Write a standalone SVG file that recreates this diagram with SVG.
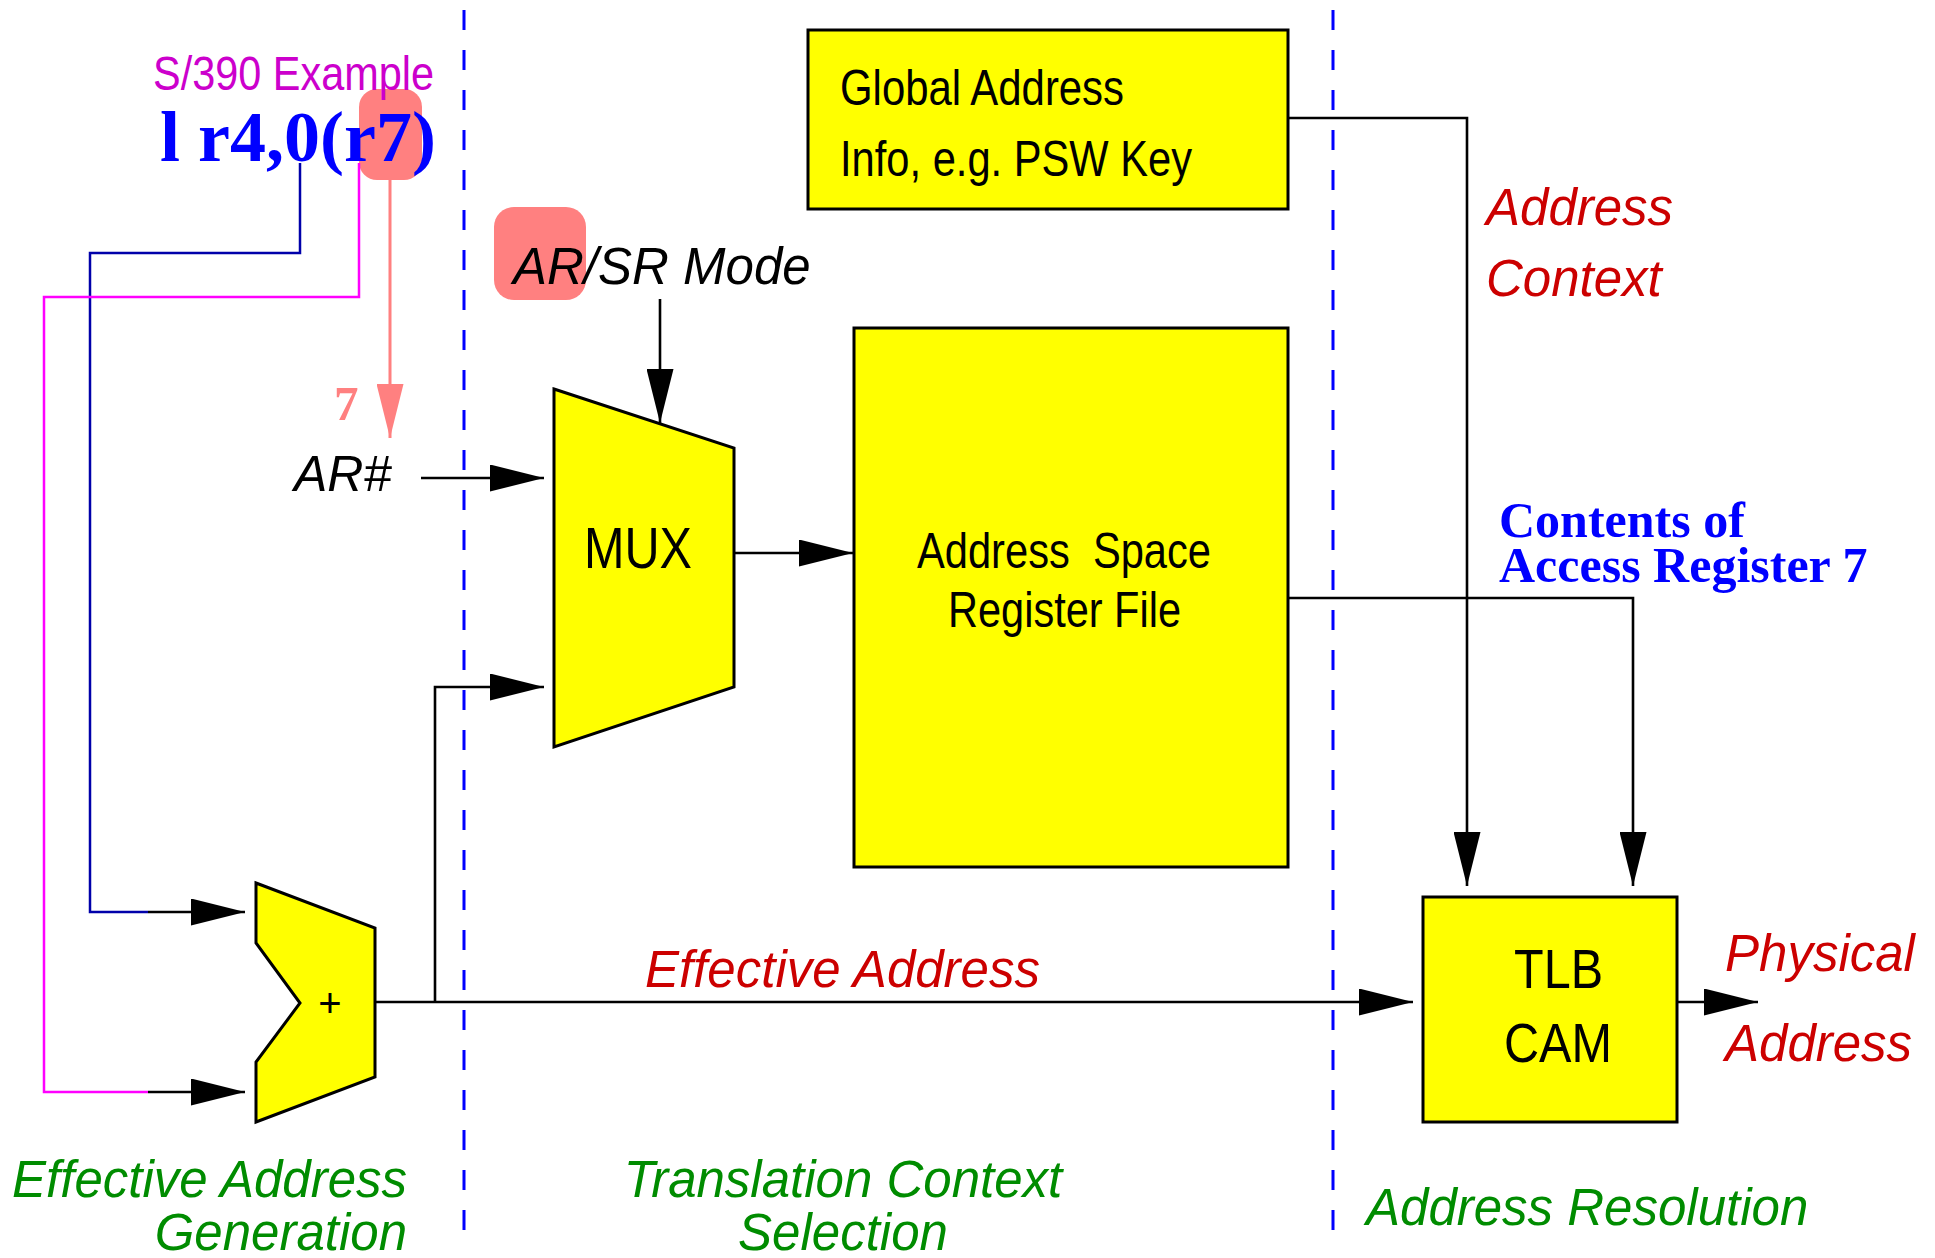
<svg xmlns="http://www.w3.org/2000/svg" width="1935" height="1258" viewBox="0 0 1935 1258">
<style>
.box{fill:#ffff00;stroke:#000;stroke-width:3}
.ln{fill:none;stroke:#000;stroke-width:2.6}
.nar{font-family:"Liberation Sans",Arial,sans-serif;fill:#000}
.it{font-family:"Liberation Sans",Arial,sans-serif;font-style:italic}
.red{fill:#cc0000;font-size:51px}
.grn{fill:#008c00;font-size:51px}
.bser{font-family:"Liberation Serif","Times New Roman",serif;font-weight:bold}
.hl{fill:#ff8080}
.dash{stroke:#0000ff;stroke-width:3;stroke-dasharray:20 20}
</style>
<defs>
<marker id="ah" markerUnits="userSpaceOnUse" markerWidth="54" markerHeight="27" viewBox="0 0 54 27" refX="54" refY="13.5" orient="auto"><path d="M0,0 L54,13.5 L0,27 z" fill="#000"/></marker>
<marker id="ahs" markerUnits="userSpaceOnUse" markerWidth="54" markerHeight="27" viewBox="0 0 54 27" refX="54" refY="13.5" orient="auto"><path d="M0,0 L54,13.5 L0,27 z" fill="#ff8080"/></marker>
</defs>
<rect width="1935" height="1258" fill="#fff"/>
<g id="dividers">
<line class="dash" x1="464" y1="10" x2="464" y2="1230"/>
<line class="dash" x1="1333" y1="10" x2="1333" y2="1230"/>
</g>
<g id="highlights">
<rect class="hl" x="359" y="89" width="63" height="91" rx="18"/>
<rect class="hl" x="494" y="207" width="92" height="93" rx="20"/>
</g>
<g id="connectors">
<path d="M300,163 V253 H90 V912 H148" fill="none" stroke="#0000aa" stroke-width="2.5"/>
<path d="M359,163 V297 H44 V1092 H148" fill="none" stroke="#ff00ff" stroke-width="2.5"/>
<path class="ln" d="M148,912 H245" marker-end="url(#ah)"/>
<path class="ln" d="M148,1092 H245" marker-end="url(#ah)"/>
<path d="M390,180 V438" fill="none" stroke="#ff8080" stroke-width="3" marker-end="url(#ahs)"/>
<path class="ln" d="M421,478 H544" marker-end="url(#ah)"/>
<path class="ln" d="M660,299 V423" marker-end="url(#ah)"/>
<path class="ln" d="M435,1002 V687 H544" marker-end="url(#ah)"/>
<path class="ln" d="M375,1002 H1413" marker-end="url(#ah)"/>
<path class="ln" d="M734,553 H853" marker-end="url(#ah)"/>
<path class="ln" d="M1288,118 H1467 V886" marker-end="url(#ah)"/>
<path class="ln" d="M1288,598 H1633 V886" marker-end="url(#ah)"/>
<path class="ln" d="M1677,1002 H1758" marker-end="url(#ah)"/>
</g>
<g id="node-global">
<rect class="box" x="808" y="30" width="480" height="179"/>
<text class="nar" x="840" y="105" font-size="50" textLength="284" lengthAdjust="spacingAndGlyphs">Global Address</text>
<text class="nar" x="840" y="176" font-size="50" textLength="352" lengthAdjust="spacingAndGlyphs">Info, e.g. PSW Key</text>
</g>
<g id="node-asrf">
<rect class="box" x="854" y="328" width="434" height="539"/>
<text class="nar" x="917" y="568" font-size="50" textLength="294" lengthAdjust="spacingAndGlyphs" xml:space="preserve">Address  Space</text>
<text class="nar" x="948" y="627" font-size="50" textLength="233" lengthAdjust="spacingAndGlyphs">Register File</text>
</g>
<g id="node-mux">
<polygon class="box" points="554,389 734,448 734,687 554,747"/>
<text class="nar" x="584" y="568" font-size="57" textLength="108" lengthAdjust="spacingAndGlyphs">MUX</text>
</g>
<g id="node-adder">
<polygon class="box" points="256,883 375,928 375,1077 256,1122 256,1062 300,1003 256,943"/>
<text class="nar" x="330" y="1017" font-size="40" text-anchor="middle">+</text>
</g>
<g id="node-tlb">
<rect class="box" x="1423" y="897" width="254" height="225"/>
<text class="nar" x="1514" y="988" font-size="56" textLength="89" lengthAdjust="spacingAndGlyphs">TLB</text>
<text class="nar" x="1504" y="1062" font-size="56" textLength="108" lengthAdjust="spacingAndGlyphs">CAM</text>
</g>
<g id="labels">
<text class="nar" x="153" y="90" font-size="49" style="fill:#cc00cc" textLength="281" lengthAdjust="spacingAndGlyphs">S/390 Example</text>
<text class="bser" x="160" y="161" font-size="72" fill="#0000ff">l r4,0(r7)</text>
<text class="bser" x="334" y="420" font-size="49" fill="#ff8080">7</text>
<text class="it" x="294" y="491" font-size="50" fill="#000">AR#</text>
<text class="it" x="513" y="284" font-size="51" fill="#000">AR/SR Mode</text>
<text class="it red" x="645" y="987">Effective Address</text>
<text class="it red" x="1486" y="225">Address</text>
<text class="it red" x="1486" y="296">Context</text>
<text class="it red" x="1725" y="971">Physical</text>
<text class="it red" x="1725" y="1061">Address</text>
<text class="bser" x="1499" y="537" font-size="50" fill="#0000ff">Contents of</text>
<text class="bser" x="1499" y="582" font-size="50" fill="#0000ff">Access Register 7</text>
<text class="it grn" x="407" y="1197" text-anchor="end">Effective Address</text>
<text class="it grn" x="407" y="1250" text-anchor="end">Generation</text>
<text class="it grn" x="843" y="1197" text-anchor="middle">Translation Context</text>
<text class="it grn" x="843" y="1250" text-anchor="middle">Selection</text>
<text class="it grn" x="1366" y="1225">Address Resolution</text>
</g>
</svg>
